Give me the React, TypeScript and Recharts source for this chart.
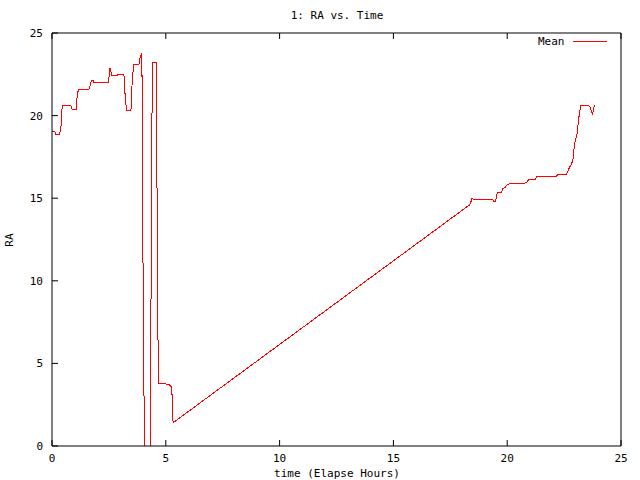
import { LineChart, Line, XAxis, YAxis, Legend } from "recharts";

const FONT = "'DejaVu Sans Mono', monospace";

// elapsed time (hours) and RA (hours)
const timeHours = [
  0, 0.13, 0.14, 0.34, 0.4, 0.45, 0.82, 0.89, 1.07, 1.1, 1.16, 1.63, 1.7, 1.73, 1.8, 1.85,
  2.47, 2.52, 2.55, 2.6, 2.62, 2.87, 2.9, 3.16, 3.21, 3.27, 3.47, 3.53, 3.6, 3.82, 3.88, 3.95,
  3.97, 4.02, 4.07, 4.31, 4.34, 4.38, 4.41, 4.57, 4.6, 4.64, 4.67, 5.0, 5.03, 5.17, 5.2, 5.26,
  5.32, 18.35, 18.4, 18.45, 18.5, 19.35, 19.42, 19.49, 19.57, 19.74, 19.82, 19.9, 20.0, 20.15,
  20.78, 20.88, 20.96, 21.25, 21.3, 22.16, 22.23, 22.61, 22.67, 22.75, 22.83, 22.9, 22.95, 23.01,
  23.08, 23.12, 23.17, 23.23, 23.56, 23.64, 23.7, 23.74, 23.78, 23.83, 23.87,
];
const raMean = [
  19.02, 19.02, 18.88, 18.88, 19.4, 20.63, 20.63, 20.35, 20.35, 21.1, 21.6, 21.6, 21.9, 22.14, 22.14, 21.98,
  21.98, 22.5, 22.87, 22.6, 22.4, 22.4, 22.5, 22.5, 21.3, 20.33, 20.33, 22.3, 23.07, 23.07, 23.6, 23.77,
  17.9, 6.0, -0.5, -0.5, 5.8, 17.4, 23.2, 23.2, 18.4, 10.3, 3.78, 3.78, 3.73, 3.73, 3.6, 3.6,
  1.41, 14.6, 14.75, 15.0, 14.95, 14.95, 14.8, 14.8, 15.36, 15.36, 15.6, 15.65, 15.8, 15.92,
  15.92, 16.0, 16.16, 16.16, 16.32, 16.32, 16.46, 16.46, 16.65, 16.9, 17.07, 17.43, 18.18, 18.58,
  18.98, 19.58, 20.1, 20.63, 20.63, 20.5, 20.3, 20.05, 20.3, 20.6, 20.6,
];
const axisTicks = [0, 5, 10, 15, 20, 25];

const data = timeHours.map((t, i) => ({ t, ra: raMean[i] }));

// plot box edges (from the margins below), gnuplot-style inward ticks
const LEFT = 52;
const RIGHT = 621;
const TOP = 33;
const BOTTOM = 446;
const TICK = 6;

const tickStyle = { fontFamily: FONT, fontSize: 11, fill: "#000" };

const BottomTick = ({ x, payload }: any) => (
  <g>
    <line x1={x} x2={x} y1={BOTTOM} y2={BOTTOM - TICK} stroke="#000" strokeWidth={1} />
    <text x={x} y={BOTTOM + 8} dy="0.71em" textAnchor="middle" style={tickStyle}>
      {payload.value}
    </text>
  </g>
);

const TopTick = ({ x }: any) => (
  <line x1={x} x2={x} y1={TOP} y2={TOP + TICK} stroke="#000" strokeWidth={1} />
);

const LeftTick = ({ y, payload }: any) => (
  <g>
    <line x1={LEFT} x2={LEFT + TICK} y1={y} y2={y} stroke="#000" strokeWidth={1} />
    <text x={LEFT - 9} y={y} dy="0.355em" textAnchor="end" style={tickStyle}>
      {payload.value}
    </text>
  </g>
);

const RightTick = ({ y }: any) => (
  <line x1={RIGHT} x2={RIGHT - TICK} y1={y} y2={y} stroke="#000" strokeWidth={1} />
);

export default function App() {
  return (
    <div style={{ position: "absolute", left: 0, top: 0, background: "#fff" }}>
      <LineChart
        width={640}
        height={480}
        data={data}
        margin={{ top: 32, right: 18, bottom: 33, left: 51 }}
      >
        <XAxis
          dataKey="t"
          type="number"
          domain={[0, 25]}
          ticks={axisTicks}
          height={1}
          tickLine={false}
          tickSize={0}
          stroke="#000"
          tick={BottomTick}
          label={() => (
            <text x={337} y={477} textAnchor="middle" style={tickStyle}>
              time (Elapse Hours)
            </text>
          )}
        />
        <XAxis
          xAxisId="top"
          orientation="top"
          dataKey="t"
          type="number"
          domain={[0, 25]}
          ticks={axisTicks}
          height={1}
          tickLine={false}
          tickSize={0}
          stroke="#000"
          tick={TopTick}
          label={() => (
            <text x={337} y={19} textAnchor="middle" style={tickStyle}>
              1: RA vs. Time
            </text>
          )}
        />
        <YAxis
          type="number"
          domain={[0, 25]}
          ticks={axisTicks}
          allowDataOverflow
          width={1}
          tickLine={false}
          tickSize={0}
          stroke="#000"
          tick={LeftTick}
          label={() => (
            <text
              x={13}
              y={240}
              textAnchor="middle"
              transform="rotate(-90 13 240)"
              style={tickStyle}
            >
              RA
            </text>
          )}
        />
        <YAxis
          yAxisId="right"
          orientation="right"
          type="number"
          domain={[0, 25]}
          ticks={axisTicks}
          width={1}
          tickLine={false}
          tickSize={0}
          stroke="#000"
          tick={RightTick}
        />
        <Legend
          layout="horizontal"
          verticalAlign="middle"
          align="center"
          wrapperStyle={{ top: 35, left: 538, width: 80 }}
          content={({ payload }: any) => (
            <div>
              {(payload || []).map((entry: any) => (
                <div
                  key={entry.value}
                  style={{ display: "flex", alignItems: "center", fontFamily: FONT, fontSize: 11 }}
                >
                  <span>{entry.value}</span>
                  <span
                    style={{ width: 34, height: 1, background: entry.color, marginLeft: 8 }}
                  />
                </div>
              ))}
            </div>
          )}
        />
        <Line
          type="linear"
          dataKey="ra"
          name="Mean"
          stroke="#ff0000"
          strokeWidth={1}
          shapeRendering="crispEdges"
          dot={false}
          isAnimationActive={false}
        />
      </LineChart>
    </div>
  );
}
